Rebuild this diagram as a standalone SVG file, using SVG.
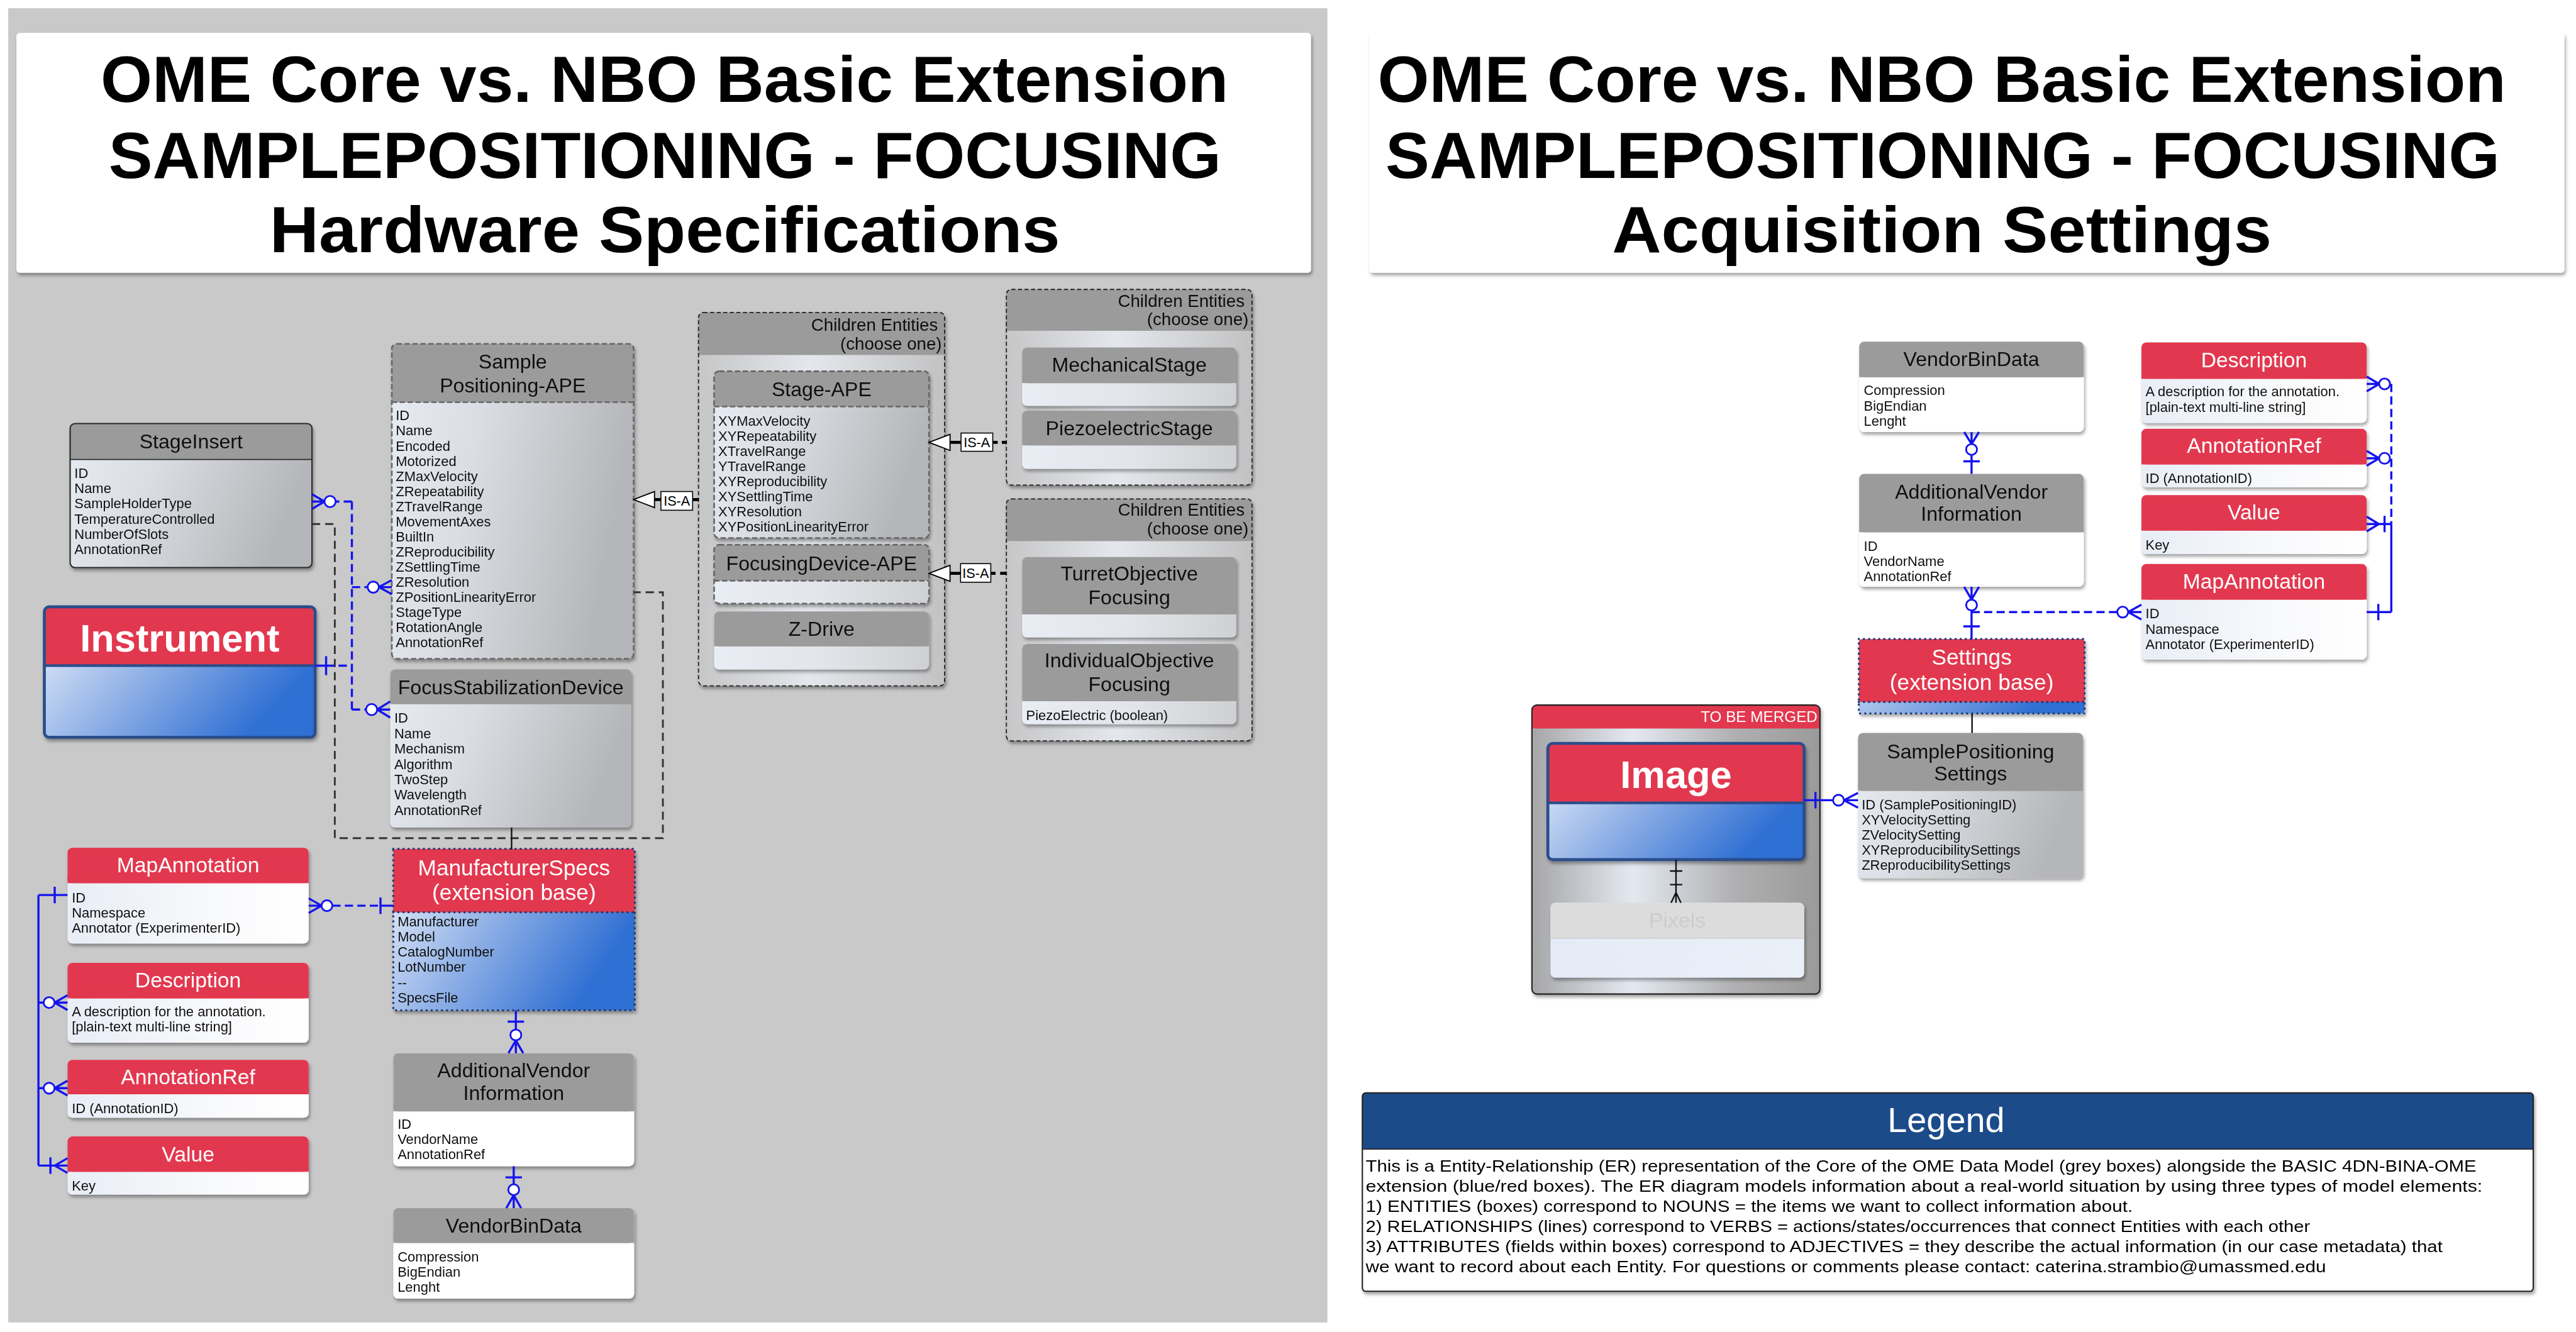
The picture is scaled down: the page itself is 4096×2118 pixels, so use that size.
<svg xmlns="http://www.w3.org/2000/svg" width="4096" height="2118" viewBox="0 0 4096 2118">
<defs>
<style>
text{font-family:"Liberation Sans",Arial,sans-serif}
.h{font-size:12.3px;fill:#111;text-anchor:middle}
.hw{font-size:12.9px;fill:#fff;text-anchor:middle}
.hx{font-size:13.5px;fill:#fff;text-anchor:middle}
.a{font-size:8.4px;fill:#111}
.g{font-size:10.6px;fill:#111;text-anchor:end}
.hd{fill:#9b9b9b}
.rd{fill:#e2394f}
.tt{font-size:40px;font-weight:bold;fill:#000;text-anchor:middle}
.bl{stroke:#1414ee;stroke-width:1.3;fill:none}
.bd{stroke-dasharray:5 2.6}
.ci{fill:#fff;stroke:#1414ee;stroke-width:1.1}
.dsh{fill:none;stroke:#666;stroke-width:1;stroke-dasharray:3.2 1.6}
.gdsh{fill:none;stroke:#222;stroke-width:0.7;stroke-dasharray:2.5 1.5}
.dot{fill:none;stroke:#1c3a78;stroke-width:1.4;stroke-dasharray:0 3.1;stroke-linecap:round}
.isa{stroke:#000;stroke-width:1.8}
.isb{fill:#fff;stroke:#000;stroke-width:0.6}
.isat{font-size:8.3px;fill:#000;text-anchor:middle}
.blk{stroke:#111;stroke-width:0.9;fill:none}
</style>
<linearGradient id="gBody" x1="0" y1="0" x2="1" y2="0.25">
<stop offset="0" stop-color="#e8ecf3"/><stop offset="0.4" stop-color="#dadde3"/><stop offset="1" stop-color="#b5b6b9"/>
</linearGradient>
<linearGradient id="gLight" x1="0" y1="0" x2="1" y2="0">
<stop offset="0" stop-color="#e9edf4"/><stop offset="0.5" stop-color="#e2e5ea"/><stop offset="1" stop-color="#cfd0d3"/>
</linearGradient>
<linearGradient id="gWhite" x1="0" y1="0" x2="1" y2="0">
<stop offset="0" stop-color="#e8edf6"/><stop offset="0.6" stop-color="#f8f9fb"/><stop offset="1" stop-color="#ffffff"/>
</linearGradient>
<linearGradient id="gBlue" x1="0" y1="0" x2="1" y2="0.45">
<stop offset="0" stop-color="#eef3fb"/><stop offset="0.5" stop-color="#8fb0e6"/><stop offset="1" stop-color="#2f6fd3"/>
</linearGradient>
<linearGradient id="gGroup" x1="0" y1="0" x2="1" y2="0">
<stop offset="0" stop-color="#c6c6c7"/><stop offset="0.45" stop-color="#e4e7ec"/><stop offset="1" stop-color="#c2c2c3"/>
</linearGradient>
<linearGradient id="gMerge" x1="0" y1="0" x2="1" y2="0">
<stop offset="0" stop-color="#a6a6a8"/><stop offset="0.35" stop-color="#e4e9f1"/><stop offset="0.7" stop-color="#b0b0b2"/><stop offset="1" stop-color="#9a9a9a"/>
</linearGradient>
<linearGradient id="gPix" x1="0" y1="0" x2="1" y2="0">
<stop offset="0" stop-color="#e4ebf6"/><stop offset="1" stop-color="#eaf0f8"/>
</linearGradient>
<filter id="sh" x="-10%" y="-10%" width="125%" height="130%">
<feDropShadow dx="0.8" dy="1.6" stdDeviation="1.1" flood-color="#000" flood-opacity="0.35"/>
</filter>
</defs>
<rect width="4096" height="2118" fill="#fff"/>
<g transform="scale(2.6122)">
<rect x="5" y="5" width="803" height="800" fill="#c9c9c9"/>

<g id="title-left" filter="url(#sh)">
<rect x="10" y="20" width="788" height="146" rx="2" fill="#fff"/>
<text class="tt" x="404.5" y="62.2" textLength="686.5" lengthAdjust="spacingAndGlyphs">OME Core vs. NBO Basic Extension</text>
<text class="tt" x="404.7" y="108.3" textLength="677.2" lengthAdjust="spacingAndGlyphs">SAMPLEPOSITIONING - FOCUSING</text>
<text class="tt" x="404.7" y="153.7" textLength="481.1" lengthAdjust="spacingAndGlyphs">Hardware Specifications</text>
</g>
<g id="title-right" filter="url(#sh)">
<rect x="833.5" y="20" width="727.5" height="146" rx="2" fill="#fff"/>
<text class="tt" x="1182" y="62.2" textLength="686.9" lengthAdjust="spacingAndGlyphs">OME Core vs. NBO Basic Extension</text>
<text class="tt" x="1182.5" y="108.3" textLength="678.3" lengthAdjust="spacingAndGlyphs">SAMPLEPOSITIONING - FOCUSING</text>
<text class="tt" x="1182" y="153.7" textLength="401.5" lengthAdjust="spacingAndGlyphs">Acquisition Settings</text>
</g>

<!-- LEFT PANEL NODES -->
<g id="stageinsert" filter="url(#sh)">
<rect x="42.7" y="257.8" width="147.2" height="87.7" rx="3" fill="url(#gBody)"/>
<rect class="hd" x="42.7" y="257.8" width="147.2" height="21.9" rx="3"/>
<rect class="hd" x="42.7" y="275.7" width="147.2" height="4"/>
<rect x="42.7" y="257.8" width="147.2" height="87.7" rx="3" fill="none" stroke="#2a2a2a" stroke-width="0.8"/>
<line x1="42.7" y1="279.7" x2="189.9" y2="279.7" stroke="#2a2a2a" stroke-width="0.6"/>
<text class="h" x="116.3" y="272.9">StageInsert</text>
<text class="a"><tspan x="45.3" y="290.8">ID</tspan><tspan x="45.3" y="300.1">Name</tspan><tspan x="45.3" y="309.5">SampleHolderType</tspan><tspan x="45.3" y="318.8">TemperatureControlled</tspan><tspan x="45.3" y="328.1">NumberOfSlots</tspan><tspan x="45.3" y="337.4">AnnotationRef</tspan></text>
</g>

<g id="instrument" filter="url(#sh)">
<rect x="27" y="369.4" width="164.8" height="79.4" rx="3" fill="url(#gBlue)"/>
<rect class="rd" x="27" y="369.4" width="164.8" height="35.8" rx="3"/>
<rect class="rd" x="27" y="401.2" width="164.8" height="4"/>
<line x1="27" y1="405.2" x2="191.8" y2="405.2" stroke="#2a4d8a" stroke-width="1.6"/>
<rect x="27" y="369.4" width="164.8" height="79.4" rx="3" fill="none" stroke="#2a4d8a" stroke-width="1.8"/>
<text x="109.4" y="396.7" font-size="23.5" font-weight="bold" fill="#fff" text-anchor="middle">Instrument</text>
</g>

<g id="samplepositioning-ape" filter="url(#sh)">
<rect x="238.5" y="209.3" width="147.2" height="191.7" rx="3" fill="url(#gBody)"/>
<rect class="hd" x="238.5" y="209.3" width="147.2" height="35.5" rx="3"/>
<rect class="hd" x="238.5" y="240.8" width="147.2" height="4"/>
<rect class="dsh" x="238.5" y="209.3" width="147.2" height="191.7" rx="3"/>
<line class="dsh" x1="238.5" y1="244.8" x2="385.7" y2="244.8"/>
<text class="h" x="312.1" y="224.2">Sample</text>
<text class="h" x="312.1" y="238.8">Positioning-APE</text>
<text class="a"><tspan x="240.9" y="255.9">ID</tspan><tspan x="240.9" y="265.1">Name</tspan><tspan x="240.9" y="274.3">Encoded</tspan><tspan x="240.9" y="283.5">Motorized</tspan><tspan x="240.9" y="292.7">ZMaxVelocity</tspan><tspan x="240.9" y="301.9">ZRepeatability</tspan><tspan x="240.9" y="311.2">ZTravelRange</tspan><tspan x="240.9" y="320.4">MovementAxes</tspan><tspan x="240.9" y="329.6">BuiltIn</tspan><tspan x="240.9" y="338.8">ZReproducibility</tspan><tspan x="240.9" y="348">ZSettlingTime</tspan><tspan x="240.9" y="357.2">ZResolution</tspan><tspan x="240.9" y="366.4">ZPositionLinearityError</tspan><tspan x="240.9" y="375.6">StageType</tspan><tspan x="240.9" y="384.8">RotationAngle</tspan><tspan x="240.9" y="394.1">AnnotationRef</tspan></text>
</g>

<g id="focusstabilizationdevice" filter="url(#sh)">
<rect x="237.5" y="407.4" width="146.8" height="96.3" rx="3" fill="url(#gBody)"/>
<rect class="hd" x="237.5" y="407.4" width="146.8" height="21.2" rx="3"/>
<rect class="hd" x="237.5" y="424.6" width="146.8" height="4"/>
<text class="h" x="310.9" y="422.6">FocusStabilizationDevice</text>
<text class="a"><tspan x="240" y="440">ID</tspan><tspan x="240" y="449.4">Name</tspan><tspan x="240" y="458.7">Mechanism</tspan><tspan x="240" y="468">Algorithm</tspan><tspan x="240" y="477.4">TwoStep</tspan><tspan x="240" y="486.7">Wavelength</tspan><tspan x="240" y="496">AnnotationRef</tspan></text>
</g>

<g id="children-stage-focus" filter="url(#sh)">
<rect x="425.2" y="190.2" width="149.8" height="227.3" rx="3" fill="url(#gGroup)"/>
<rect class="hd" x="425.2" y="190.2" width="149.8" height="25.8" rx="3"/>
<rect class="hd" x="425.2" y="212" width="149.8" height="4"/>
<rect class="gdsh" x="425.2" y="190.2" width="149.8" height="227.3" rx="3"/>
<text class="g" x="570.9" y="201.3">Children Entities</text>
<text class="g" x="573.3" y="212.9">(choose one)</text>
</g>
<g id="stage-ape" filter="url(#sh)">
<rect x="434.7" y="226" width="130.8" height="101.5" rx="3" fill="url(#gBody)"/>
<rect class="hd" x="434.7" y="226" width="130.8" height="21.5" rx="3"/>
<rect class="hd" x="434.7" y="243.5" width="130.8" height="4"/>
<rect class="dsh" x="434.7" y="226" width="130.8" height="101.5" rx="3"/>
<line class="dsh" x1="434.7" y1="247.5" x2="565.5" y2="247.5"/>
<text class="h" x="500.1" y="241">Stage-APE</text>
<text class="a"><tspan x="437.2" y="259">XYMaxVelocity</tspan><tspan x="437.2" y="268.2">XYRepeatability</tspan><tspan x="437.2" y="277.4">XTravelRange</tspan><tspan x="437.2" y="286.6">YTravelRange</tspan><tspan x="437.2" y="295.8">XYReproducibility</tspan><tspan x="437.2" y="305">XYSettlingTime</tspan><tspan x="437.2" y="314.2">XYResolution</tspan><tspan x="437.2" y="323.4">XYPositionLinearityError</tspan></text>
</g>
<g id="focusingdevice-ape" filter="url(#sh)">
<rect x="434.7" y="331.6" width="130.8" height="35.8" rx="3" fill="url(#gLight)"/>
<rect class="hd" x="434.7" y="331.6" width="130.8" height="21.9" rx="3"/>
<rect class="hd" x="434.7" y="349.5" width="130.8" height="4"/>
<rect class="dsh" x="434.7" y="331.6" width="130.8" height="35.8" rx="3"/>
<line class="dsh" x1="434.7" y1="353.5" x2="565.5" y2="353.5"/>
<text class="h" x="500.1" y="347.2">FocusingDevice-APE</text>
</g>
<g id="z-drive" filter="url(#sh)">
<rect x="434.7" y="372.2" width="130.8" height="35.3" rx="3" fill="url(#gLight)"/>
<rect class="hd" x="434.7" y="372.2" width="130.8" height="21.2" rx="3"/>
<rect class="hd" x="434.7" y="389.4" width="130.8" height="4"/>
<text class="h" x="500.1" y="387.1">Z-Drive</text>
</g>

<g id="children-stage-types" filter="url(#sh)">
<rect x="612.6" y="176.2" width="149.5" height="119.1" rx="3" fill="url(#gGroup)"/>
<rect class="hd" x="612.6" y="176.2" width="149.5" height="25.1" rx="3"/>
<rect class="hd" x="612.6" y="197.3" width="149.5" height="4"/>
<rect class="gdsh" x="612.6" y="176.2" width="149.5" height="119.1" rx="3"/>
<text class="g" x="757.6" y="187">Children Entities</text>
<text class="g" x="760" y="198">(choose one)</text>
</g>
<g id="mechanicalstage" filter="url(#sh)">
<rect x="622.2" y="211.5" width="130.4" height="35.5" rx="3" fill="url(#gLight)"/>
<rect class="hd" x="622.2" y="211.5" width="130.4" height="21.7" rx="3"/>
<rect class="hd" x="622.2" y="229.2" width="130.4" height="4"/>
<text class="h" x="687.4" y="226.4">MechanicalStage</text>
</g>
<g id="piezoelectricstage" filter="url(#sh)">
<rect x="622.2" y="250" width="130.4" height="35.4" rx="3" fill="url(#gLight)"/>
<rect class="hd" x="622.2" y="250" width="130.4" height="21.1" rx="3"/>
<rect class="hd" x="622.2" y="267.1" width="130.4" height="4"/>
<text class="h" x="687.4" y="264.9">PiezoelectricStage</text>
</g>

<g id="children-focus-types" filter="url(#sh)">
<rect x="612.6" y="303.7" width="149.5" height="147.3" rx="3" fill="url(#gGroup)"/>
<rect class="hd" x="612.6" y="303.7" width="149.5" height="25.6" rx="3"/>
<rect class="hd" x="612.6" y="325.3" width="149.5" height="4"/>
<rect class="gdsh" x="612.6" y="303.7" width="149.5" height="147.3" rx="3"/>
<text class="g" x="757.6" y="314">Children Entities</text>
<text class="g" x="760" y="325.4">(choose one)</text>
</g>
<g id="turretobjectivefocusing" filter="url(#sh)">
<rect x="622.2" y="339.1" width="130.4" height="48.9" rx="3" fill="url(#gLight)"/>
<rect class="hd" x="622.2" y="339.1" width="130.4" height="34.9" rx="3"/>
<rect class="hd" x="622.2" y="370" width="130.4" height="4"/>
<text class="h" x="687.4" y="353.5">TurretObjective</text>
<text class="h" x="687.4" y="367.8">Focusing</text>
</g>
<g id="individualobjectivefocusing" filter="url(#sh)">
<rect x="622.2" y="392" width="130.4" height="48.8" rx="3" fill="url(#gLight)"/>
<rect class="hd" x="622.2" y="392" width="130.4" height="34.8" rx="3"/>
<rect class="hd" x="622.2" y="422.8" width="130.4" height="4"/>
<text class="h" x="687.4" y="406.3">IndividualObjective</text>
<text class="h" x="687.4" y="420.6">Focusing</text>
<text class="a" x="624.6" y="438.5">PiezoElectric (boolean)</text>
</g>

<g id="mapannotation-left" filter="url(#sh)">
<rect x="41.1" y="516" width="146.8" height="58.3" rx="3" fill="url(#gWhite)"/>
<rect class="rd" x="41.1" y="516" width="146.8" height="21.6" rx="3"/>
<rect class="rd" x="41.1" y="533.6" width="146.8" height="4"/>
<text class="hw" x="114.5" y="531.1">MapAnnotation</text>
<text class="a"><tspan x="43.7" y="549.2">ID</tspan><tspan x="43.7" y="558.4">Namespace</tspan><tspan x="43.7" y="567.6">Annotator (ExperimenterID)</tspan></text>
</g>
<g id="description-left" filter="url(#sh)">
<rect x="41.1" y="586.1" width="146.8" height="48.6" rx="3" fill="url(#gWhite)"/>
<rect class="rd" x="41.1" y="586.1" width="146.8" height="21.6" rx="3"/>
<rect class="rd" x="41.1" y="603.7" width="146.8" height="4"/>
<text class="hw" x="114.5" y="600.9">Description</text>
<text class="a"><tspan x="43.7" y="618.5">A description for the annotation.</tspan><tspan x="43.7" y="628">[plain-text multi-line string]</tspan></text>
</g>
<g id="annotationref-left" filter="url(#sh)">
<rect x="41.1" y="645.1" width="146.8" height="35.3" rx="3" fill="url(#gWhite)"/>
<rect class="rd" x="41.1" y="645.1" width="146.8" height="21" rx="3"/>
<rect class="rd" x="41.1" y="662.1" width="146.8" height="4"/>
<text class="hw" x="114.5" y="659.8">AnnotationRef</text>
<text class="a" x="43.7" y="677.5">ID (AnnotationID)</text>
</g>
<g id="value-left" filter="url(#sh)">
<rect x="41.1" y="691.8" width="146.8" height="35.4" rx="3" fill="url(#gWhite)"/>
<rect class="rd" x="41.1" y="691.8" width="146.8" height="21.5" rx="3"/>
<rect class="rd" x="41.1" y="709.3" width="146.8" height="4"/>
<text class="hw" x="114.5" y="707">Value</text>
<text class="a" x="43.7" y="724.6">Key</text>
</g>

<g id="manufacturerspecs" filter="url(#sh)">
<rect x="239.4" y="516.7" width="147" height="98.3" rx="2" fill="url(#gBlue)"/>
<rect class="rd" x="239.4" y="516.7" width="147" height="38.6" rx="2"/>
<rect class="rd" x="239.4" y="551.3" width="147" height="4"/>
<rect class="dot" x="239.4" y="516.7" width="147" height="98.3"/>
<line class="dot" x1="239.4" y1="555.3" x2="386.4" y2="555.3"/>
<text class="hx" x="312.9" y="533">ManufacturerSpecs</text>
<text class="hx" x="312.9" y="547.8">(extension base)</text>
<text class="a"><tspan x="242" y="563.9">Manufacturer</tspan><tspan x="242" y="573.2">Model</tspan><tspan x="242" y="582.4">CatalogNumber</tspan><tspan x="242" y="591.6">LotNumber</tspan><tspan x="242" y="600.9">--</tspan><tspan x="242" y="610.1">SpecsFile</tspan></text>
</g>
<g id="additionalvendorinformation-left" filter="url(#sh)">
<rect x="239.4" y="641.1" width="146.6" height="68.8" rx="3" fill="#fff"/>
<rect class="hd" x="239.4" y="641.1" width="146.6" height="35.4" rx="3"/>
<rect class="hd" x="239.4" y="672.5" width="146.6" height="4"/>
<text class="h" x="312.7" y="655.9">AdditionalVendor</text>
<text class="h" x="312.7" y="669.6">Information</text>
<text class="a"><tspan x="242" y="687.3">ID</tspan><tspan x="242" y="696.4">VendorName</tspan><tspan x="242" y="705.6">AnnotationRef</tspan></text>
</g>
<g id="vendorbindata-left" filter="url(#sh)">
<rect x="239.4" y="735.4" width="146.6" height="55.1" rx="3" fill="#fff"/>
<rect class="hd" x="239.4" y="735.4" width="146.6" height="21.2" rx="3"/>
<rect class="hd" x="239.4" y="752.6" width="146.6" height="4"/>
<text class="h" x="312.7" y="750.2">VendorBinData</text>
<text class="a"><tspan x="242" y="767.9">Compression</tspan><tspan x="242" y="777.2">BigEndian</tspan><tspan x="242" y="786.5">Lenght</tspan></text>
</g>

<!-- RIGHT PANEL NODES -->
<g id="vendorbindata-right" filter="url(#sh)">
<rect x="1131.7" y="208" width="136.7" height="55" rx="3" fill="#fff"/>
<rect class="hd" x="1131.7" y="208" width="136.7" height="21.6" rx="3"/>
<rect class="hd" x="1131.7" y="225.6" width="136.7" height="4"/>
<text class="h" x="1200" y="222.9">VendorBinData</text>
<text class="a"><tspan x="1134.5" y="240.5">Compression</tspan><tspan x="1134.5" y="249.8">BigEndian</tspan><tspan x="1134.5" y="259.1">Lenght</tspan></text>
</g>
<g id="additionalvendorinformation-right" filter="url(#sh)">
<rect x="1131.7" y="288.5" width="136.7" height="68.7" rx="3" fill="#fff"/>
<rect class="hd" x="1131.7" y="288.5" width="136.7" height="35.5" rx="3"/>
<rect class="hd" x="1131.7" y="320" width="136.7" height="4"/>
<text class="h" x="1200" y="303.4">AdditionalVendor</text>
<text class="h" x="1200" y="316.9">Information</text>
<text class="a"><tspan x="1134.5" y="335.2">ID</tspan><tspan x="1134.5" y="344.5">VendorName</tspan><tspan x="1134.5" y="353.8">AnnotationRef</tspan></text>
</g>
<g id="settings" filter="url(#sh)">
<rect x="1131.5" y="389" width="137.4" height="45.3" rx="2" fill="url(#gBlue)"/>
<rect class="rd" x="1131.5" y="389" width="137.4" height="38.3" rx="2"/>
<rect class="rd" x="1131.5" y="423.3" width="137.4" height="4"/>
<rect class="dot" x="1131.5" y="389" width="137.4" height="45.3"/>
<line class="dot" x1="1131.5" y1="427.3" x2="1268.9" y2="427.3"/>
<text class="hx" x="1200.2" y="404.7">Settings</text>
<text class="hx" x="1200.2" y="419.9">(extension base)</text>
</g>
<g id="samplepositioningsettings" filter="url(#sh)">
<rect x="1131" y="446.2" width="136.9" height="88.3" rx="3" fill="url(#gBody)"/>
<rect class="hd" x="1131" y="446.2" width="136.9" height="35.2" rx="3"/>
<rect class="hd" x="1131" y="477.4" width="136.9" height="4"/>
<text class="h" x="1199.5" y="461.5">SamplePositioning</text>
<text class="h" x="1199.5" y="475">Settings</text>
<text class="a"><tspan x="1133.2" y="492.7">ID (SamplePositioningID)</tspan><tspan x="1133.2" y="501.9">XYVelocitySetting</tspan><tspan x="1133.2" y="511.1">ZVelocitySetting</tspan><tspan x="1133.2" y="520.3">XYReproducibilitySettings</tspan><tspan x="1133.2" y="529.5">ZReproducibilitySettings</tspan></text>
</g>
<g id="description-right" filter="url(#sh)">
<rect x="1303.5" y="208.4" width="137.1" height="49" rx="3" fill="url(#gWhite)"/>
<rect class="rd" x="1303.5" y="208.4" width="137.1" height="22.2" rx="3"/>
<rect class="rd" x="1303.5" y="226.6" width="137.1" height="4"/>
<text class="hw" x="1372" y="223.6">Description</text>
<text class="a"><tspan x="1306" y="241.2">A description for the annotation.</tspan><tspan x="1306" y="250.6">[plain-text multi-line string]</tspan></text>
</g>
<g id="annotationref-right" filter="url(#sh)">
<rect x="1303.5" y="261" width="137.1" height="35.6" rx="3" fill="url(#gWhite)"/>
<rect class="rd" x="1303.5" y="261" width="137.1" height="21.7" rx="3"/>
<rect class="rd" x="1303.5" y="278.7" width="137.1" height="4"/>
<text class="hw" x="1372" y="275.7">AnnotationRef</text>
<text class="a" x="1306" y="293.9">ID (AnnotationID)</text>
</g>
<g id="value-right" filter="url(#sh)">
<rect x="1303.5" y="301.4" width="137.1" height="35.9" rx="3" fill="url(#gWhite)"/>
<rect class="rd" x="1303.5" y="301.4" width="137.1" height="21.6" rx="3"/>
<rect class="rd" x="1303.5" y="319" width="137.1" height="4"/>
<text class="hw" x="1372" y="316.3">Value</text>
<text class="a" x="1306" y="334.5">Key</text>
</g>
<g id="mapannotation-right" filter="url(#sh)">
<rect x="1303.5" y="343.3" width="137.1" height="58.2" rx="3" fill="url(#gWhite)"/>
<rect class="rd" x="1303.5" y="343.3" width="137.1" height="21.7" rx="3"/>
<rect class="rd" x="1303.5" y="361" width="137.1" height="4"/>
<text class="hw" x="1372" y="358.2">MapAnnotation</text>
<text class="a"><tspan x="1306" y="376.5">ID</tspan><tspan x="1306" y="385.8">Namespace</tspan><tspan x="1306" y="395">Annotator (ExperimenterID)</tspan></text>
</g>

<g id="to-be-merged" filter="url(#sh)">
<rect x="932.5" y="429.2" width="175.3" height="175.9" rx="3" fill="url(#gMerge)"/>
<rect class="rd" x="932.5" y="429.2" width="175.3" height="14.2" rx="3"/>
<rect class="rd" x="932.5" y="439.4" width="175.3" height="4"/>
<rect x="932.5" y="429.2" width="175.3" height="175.9" rx="3" fill="none" stroke="#222" stroke-width="0.8"/>
<text x="1106.3" y="439.6" font-size="9.3" fill="#fff" text-anchor="end">TO BE MERGED</text>
</g>
<g id="image" filter="url(#sh)">
<rect x="942.2" y="452.5" width="156" height="70.8" rx="3" fill="url(#gBlue)"/>
<rect class="rd" x="942.2" y="452.5" width="156" height="36.2" rx="3"/>
<rect class="rd" x="942.2" y="484.7" width="156" height="4"/>
<line x1="942.2" y1="488.7" x2="1098.2" y2="488.7" stroke="#2a4d8a" stroke-width="1.6"/>
<rect x="942.2" y="452.5" width="156" height="70.8" rx="3" fill="none" stroke="#2a4d8a" stroke-width="1.8"/>
<text x="1020.2" y="479.6" font-size="23.5" font-weight="bold" fill="#fff" text-anchor="middle">Image</text>
</g>
<g id="pixels" filter="url(#sh)">
<rect x="943.8" y="549.5" width="154.4" height="45.6" rx="3" fill="url(#gPix)"/>
<rect x="943.8" y="549.5" width="154.4" height="21.7" rx="3" fill="#dcdcdc"/>
<rect x="943.8" y="567.2" width="154.4" height="4" fill="#dcdcdc"/>
<line x1="943.8" y1="571.2" x2="1098.2" y2="571.2" stroke="#cfcfcf" stroke-width="0.6"/>
<text x="1021" y="564.5" font-size="13" fill="#cdcdcd" text-anchor="middle">Pixels</text>
</g>

<g id="legend" filter="url(#sh)">
<rect x="829.3" y="665.3" width="712.7" height="120.7" rx="2" fill="#fff"/>
<rect x="829.3" y="665.3" width="712.7" height="34.2" rx="2" fill="#1f4b8a"/>
<rect x="829.3" y="695.5" width="712.7" height="4" fill="#1f4b8a"/>
<rect x="829.3" y="665.3" width="712.7" height="120.7" rx="2" fill="none" stroke="#222" stroke-width="0.8"/>
<line x1="829.3" y1="699.5" x2="1542" y2="699.5" stroke="#222" stroke-width="0.6"/>
<text x="1184.6" y="689.2" font-size="21.4" fill="#fff" text-anchor="middle">Legend</text>
<g font-size="9.6" fill="#000">
<text x="831.3" y="713.1" textLength="676.1" lengthAdjust="spacingAndGlyphs">This is a Entity-Relationship (ER) representation of the Core of the OME Data Model (grey boxes) alongside the BASIC 4DN-BINA-OME</text>
<text x="831.3" y="725.4" textLength="679.8" lengthAdjust="spacingAndGlyphs">extension (blue/red boxes). The ER diagram models information about a real-world situation by using three types of model elements:</text>
<text x="831.3" y="737.6" textLength="466.9" lengthAdjust="spacingAndGlyphs">1) ENTITIES (boxes) correspond to NOUNS = the items we want to collect information about.</text>
<text x="831.3" y="749.9" textLength="574.9" lengthAdjust="spacingAndGlyphs">2) RELATIONSHIPS (lines) correspond to VERBS = actions/states/occurrences that connect Entities with each other</text>
<text x="831.3" y="762.1" textLength="655.5" lengthAdjust="spacingAndGlyphs">3) ATTRIBUTES (fields within boxes) correspond to ADJECTIVES = they describe the actual information (in our case metadata) that</text>
<text x="831.3" y="774.4" textLength="584.6" lengthAdjust="spacingAndGlyphs">we want to record about each Entity. For questions or comments please contact: caterina.strambio@umassmed.edu</text>
</g>
</g>

<!-- CONNECTORS -->
<g id="connectors">
<path d="M189.9 319 H203.8 V510.2 H403.5 V360.5 H385.7" fill="none" stroke="#333" stroke-width="1.1" stroke-dasharray="5 3"/>
<path class="blk" d="M311.4 503.7 V517"/>

<path class="bl" d="M191.8 405.2 H198.5 M198.5 399.5 V411"/>
<path class="bl bd" d="M198.5 405.2 H214.2 M214.2 305.3 V431.9 M214.2 305.3 H204.3 M214.2 357.4 H223.8 M214.2 431.9 H222.8"/>
<path class="bl" d="M197.5 305.3 L189.9 300.8 M197.5 305.3 L189.9 309.8 M197.5 305.3 H189.9"/>
<circle class="ci" cx="200.9" cy="305.3" r="3.4"/>
<path class="bl" d="M230.6 357.4 L238.5 353.1 M230.6 357.4 L238.5 361.7 M230.6 357.4 H238.5"/>
<circle class="ci" cx="227.2" cy="357.4" r="3.4"/>
<path class="bl" d="M229.6 431.9 L237.5 427 M229.6 431.9 L237.5 436.8 M229.6 431.9 H237.5"/>
<circle class="ci" cx="226.2" cy="431.9" r="3.4"/>

<path class="bl" d="M23.4 544.8 V709.5 M23.4 544.8 H41.1 M33.3 539.8 V549.8"/>
<path class="bl" d="M23.4 610.3 H26.6 M33.2 610.3 L41.1 605.8 M33.2 610.3 L41.1 614.8 M33.2 610.3 H41.1"/>
<circle class="ci" cx="29.9" cy="610.3" r="3.3"/>
<path class="bl" d="M23.4 662.4 H26.6 M33.2 662.4 L41.1 657.9 M33.2 662.4 L41.1 666.9 M33.2 662.4 H41.1"/>
<circle class="ci" cx="29.9" cy="662.4" r="3.3"/>
<path class="bl" d="M23.4 709.5 H41.1 M30.7 704.5 V714.5 M33.3 709.5 L41.1 705 M33.3 709.5 L41.1 714"/>

<path class="bl" d="M195.7 551.3 L187.9 546.8 M195.7 551.3 L187.9 555.8 M195.7 551.3 H187.9 M231.6 551.3 H239.4 M231.6 546.3 V556.3"/>
<path class="bl bd" d="M202.3 551.3 H231.6"/>
<circle class="ci" cx="199" cy="551.3" r="3.3"/>

<path class="bl" d="M314 615 V626.7 M309 621.9 H319 M314 633.3 V641.1 M314 633.3 L309.5 641.1 M314 633.3 L318.5 641.1"/>
<circle class="ci" cx="314" cy="630" r="3.3"/>
<path class="bl" d="M312.7 709.9 V720.9 M307.7 716.7 H317.7 M312.7 727.5 V735.4 M312.7 727.5 L308.2 735.4 M312.7 727.5 L317.2 735.4"/>
<circle class="ci" cx="312.7" cy="724.2" r="3.3"/>

<path class="bl" d="M1200.1 263 V270.3 M1200.1 270.3 L1195.6 263 M1200.1 270.3 L1204.6 263 M1200.1 276.9 V288.5 M1195.1 280.8 H1205.1"/>
<circle class="ci" cx="1200.1" cy="273.6" r="3.3"/>
<path class="bl" d="M1200.1 357.2 V365 M1200.1 365 L1195.6 357.2 M1200.1 365 L1204.6 357.2 M1200.1 371.6 V389 M1195.1 381.3 H1205.1"/>
<circle class="ci" cx="1200.1" cy="368.3" r="3.3"/>
<path class="bl bd" d="M1200.1 372.6 H1288.8"/>
<path class="bl" d="M1295.4 372.6 L1303.5 368.1 M1295.4 372.6 L1303.5 377.1 M1295.4 372.6 H1303.5"/>
<circle class="ci" cx="1292.1" cy="372.6" r="3.3"/>

<path class="bl bd" d="M1455.6 233.7 V319"/>
<path class="bl" d="M1455.6 319 V372.6 M1440.6 372.6 H1455.6 M1447.7 367.6 V377.6"/>
<path class="bl" d="M1448.2 233.7 L1440.6 229.2 M1448.2 233.7 L1440.6 238.2 M1448.2 233.7 H1440.6"/>
<circle class="ci" cx="1451.5" cy="233.7" r="3.3"/>
<path class="bl" d="M1448.2 279 L1440.6 274.5 M1448.2 279 L1440.6 283.5 M1448.2 279 H1440.6"/>
<circle class="ci" cx="1451.5" cy="279" r="3.3"/>
<path class="bl" d="M1440.6 319 H1455.6 M1448 319 L1440.6 314.5 M1448 319 L1440.6 323.5 M1451.5 314 V324"/>

<path class="bl" d="M1098.2 487.1 H1115.8 M1105.1 482.1 V492.1 M1122.4 487.1 L1131 482.6 M1122.4 487.1 L1131 491.6 M1122.4 487.1 H1131"/>
<circle class="ci" cx="1119.1" cy="487.1" r="3.3"/>
<path class="blk" d="M1200.4 434.3 V446.2"/>
<path class="blk" d="M1020.2 523.3 V549.5 M1016.5 530.2 H1024 M1016.5 538.5 H1024 M1020.2 543.3 L1017.2 549.5 M1020.2 543.3 L1023.2 549.5"/>

<polygon points="385.7,304.1 398.4,299.2 398.4,309" fill="#fff" stroke="#000" stroke-width="0.7"/>
<path class="isa" d="M398.4 304.1 H402.3 M421.6 304.1 H425.2"/>
<rect class="isb" x="402.3" y="299.2" width="19.3" height="11.4"/>
<text class="isat" x="412" y="307.8">IS-A</text>

<polygon points="565.5,269.3 578.3,264.4 578.3,274.2" fill="#fff" stroke="#000" stroke-width="0.7"/>
<path class="isa" d="M578.3 269.3 H585 M604.3 269.3 H607.3 M609.8 269.3 H612.6"/>
<rect class="isb" x="585" y="263.6" width="19.3" height="11.1"/>
<text class="isat" x="594.6" y="272.2">IS-A</text>

<polygon points="565.5,349 578.3,344.1 578.3,353.9" fill="#fff" stroke="#000" stroke-width="0.7"/>
<path class="isa" d="M578.3 349 H584.7 M603.1 349 H606 M608.8 349 H612.6"/>
<rect class="isb" x="584.7" y="343.1" width="18.4" height="11.3"/>
<text class="isat" x="593.9" y="351.8">IS-A</text>
</g>
</g>
</svg>
